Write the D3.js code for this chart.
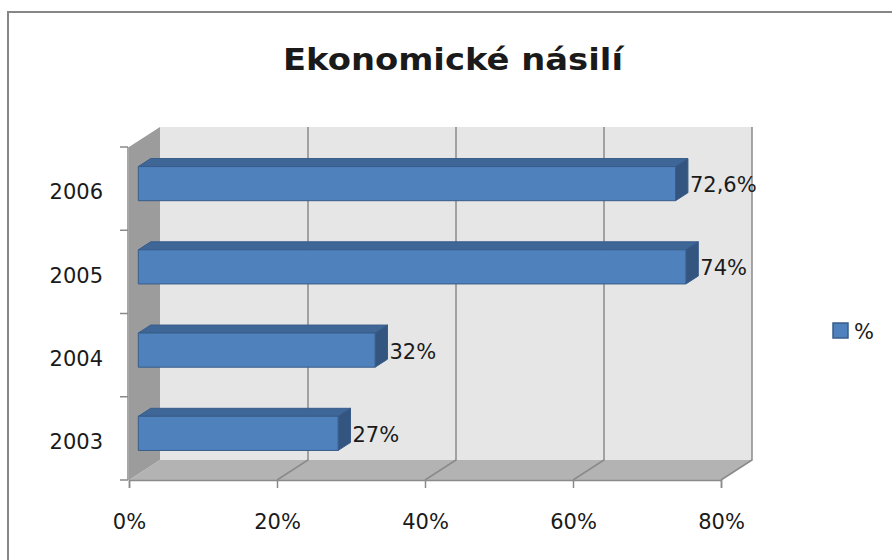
<!DOCTYPE html>
<html>
<head>
<meta charset="utf-8">
<script src="https://cdn.jsdelivr.net/npm/d3@7"></script>
<style>
  body { margin: 0; background: #fff; }
  svg text { font-family: "DejaVu Sans", sans-serif; fill: #1a1a1a; }
</style>
</head>
<body>
<div id="chart"></div>
<script>
// data
var years = ['2006', '2005', '2004', '2003'];
var values = [72.6, 74, 32, 27];
var valueLabels = ['72,6%', '74%', '32%', '27%'];
var xTicks = [0, 20, 40, 60, 80];
var seriesName = '%';

var width = 892, height = 560;
// front plane of the 3d box
var plotLeft = 129, plotRight = 721, plotTop = 147, plotBottom = 480;
// depth offset of the back wall
var DX = 31, DY = -20;
// bars sit between these depth fractions
var z0 = 0.3, z1 = 0.7;

var svg = d3.select('#chart').append('svg')
    .attr('width', width)
    .attr('height', height);

// outer chart border
svg.append('rect')
    .attr('x', 8).attr('y', 12)
    .attr('width', 900).attr('height', 600)
    .attr('fill', '#fff')
    .attr('stroke', '#868686')
    .attr('stroke-width', 2);

// title
svg.append('text')
    .attr('x', 453).attr('y', 70)
    .attr('text-anchor', 'middle')
    .attr('font-size', 31)
    .attr('font-weight', 'bold')
    .attr('textLength', 340)
    .attr('lengthAdjust', 'spacingAndGlyphs')
    .text('Ekonomické násilí');

var x = d3.scaleLinear().domain([0, 80]).range([plotLeft, plotRight]);
var y = d3.scaleBand().domain(years).range([plotTop, plotBottom]);

function pt(px, py, z) { return [px + DX * z, py + DY * z]; }
function poly(points) { return points.map(function (p) { return p.join(','); }).join(' '); }

// back wall
svg.append('polygon')
    .attr('points', poly([pt(plotLeft, plotTop, 1), pt(plotRight, plotTop, 1), pt(plotRight, plotBottom, 1), pt(plotLeft, plotBottom, 1)]))
    .attr('fill', '#e6e6e6');

// floor
svg.append('polygon')
    .attr('points', poly([pt(plotLeft, plotBottom, 0), pt(plotRight, plotBottom, 0), pt(plotRight, plotBottom, 1), pt(plotLeft, plotBottom, 1)]))
    .attr('fill', '#b3b3b3');

// side wall
svg.append('polygon')
    .attr('points', poly([pt(plotLeft, plotTop, 0), pt(plotLeft, plotTop, 1), pt(plotLeft, plotBottom, 1), pt(plotLeft, plotBottom, 0)]))
    .attr('fill', '#9c9c9c');

// gridlines: over the floor and up the back wall
var grid = svg.append('g').attr('class', 'grid');
grid.selectAll('polyline')
    .data(xTicks.slice(1))
    .enter().append('polyline')
    .attr('points', function (d) {
        return poly([pt(x(d), plotBottom, 0), pt(x(d), plotBottom, 1), pt(x(d), plotTop, 1)]);
    })
    .attr('fill', 'none')
    .attr('stroke', '#8a8a8a')
    .attr('stroke-width', 1.5);

// side wall front edge
svg.append('line')
    .attr('x1', plotLeft - 1).attr('y1', plotTop).attr('x2', plotLeft - 1).attr('y2', plotBottom)
    .attr('stroke', '#8a8a8a').attr('stroke-width', 1.5);

// x axis on the front edge of the floor
var xAxis = svg.append('g')
    .attr('class', 'axis axis-x')
    .attr('transform', 'translate(0,' + plotBottom + ')')
    .call(d3.axisBottom(x).tickValues(xTicks).tickSize(8).tickPadding(26)
        .tickFormat(function (d) { return d + '%'; }));
xAxis.select('.domain').attr('stroke', '#8a8a8a').attr('stroke-width', 1.5);
xAxis.selectAll('.tick line').attr('stroke', '#8a8a8a').attr('stroke-width', 1.5);
xAxis.selectAll('text').attr('font-size', 21).attr('fill', '#1a1a1a')
    .style('font-family', '"DejaVu Sans", sans-serif');

// y axis: labels in the middle of each band, ticks between bands
var yAxis = svg.append('g')
    .attr('class', 'axis axis-y')
    .attr('transform', 'translate(' + (plotLeft - 1) + ',4)')
    .call(d3.axisLeft(y).tickSize(0).tickPadding(25));
yAxis.select('.domain').remove();
yAxis.selectAll('text').attr('font-size', 21).attr('fill', '#1a1a1a')
    .style('font-family', '"DejaVu Sans", sans-serif');

svg.append('g').selectAll('line')
    .data(years.concat(['end']))
    .enter().append('line')
    .attr('x1', plotLeft - 9).attr('x2', plotLeft - 1)
    .attr('y1', function (d) { return d === 'end' ? plotBottom : y(d); })
    .attr('y2', function (d) { return d === 'end' ? plotBottom : y(d); })
    .attr('stroke', '#8a8a8a').attr('stroke-width', 1.5);

// 3d bars
var barPad = 0.295, barFrac = 0.41;
var bars = svg.append('g').attr('class', 'bars')
    .selectAll('g')
    .data(years.map(function (d, i) { return { year: d, value: values[i], label: valueLabels[i] }; }))
    .enter().append('g');

function barBox(d) {
    var y0 = y(d.year) + y.bandwidth() * barPad + 1;
    var y1 = y0 + y.bandwidth() * barFrac;
    return { x0: x(0), x1: x(d.value), y0: y0, y1: y1 };
}

// top face
bars.append('polygon')
    .attr('points', function (d) {
        var b = barBox(d);
        return poly([pt(b.x0, b.y0, z0), pt(b.x1, b.y0, z0), pt(b.x1, b.y0, z1), pt(b.x0, b.y0, z1)]);
    })
    .attr('fill', '#3e6697').attr('stroke', '#385d8a').attr('stroke-width', 1);

// end face
bars.append('polygon')
    .attr('points', function (d) {
        var b = barBox(d);
        return poly([pt(b.x1, b.y0, z0), pt(b.x1, b.y0, z1), pt(b.x1, b.y1, z1), pt(b.x1, b.y1, z0)]);
    })
    .attr('fill', '#33557f').attr('stroke', '#385d8a').attr('stroke-width', 1);

// front face
bars.append('polygon')
    .attr('points', function (d) {
        var b = barBox(d);
        return poly([pt(b.x0, b.y0, z0), pt(b.x1, b.y0, z0), pt(b.x1, b.y1, z0), pt(b.x0, b.y1, z0)]);
    })
    .attr('fill', '#4f81bd').attr('stroke', '#385d8a').attr('stroke-width', 1);

// value labels
bars.append('text')
    .attr('x', function (d) { return pt(barBox(d).x1, 0, z1)[0] + 2; })
    .attr('y', function (d) { var b = barBox(d); return (b.y0 + b.y1) / 2 + DY * z0 + 1; })
    .attr('dy', '0.36em')
    .attr('font-size', 21)
    .text(function (d) { return d.label; });

// legend
var legend = svg.append('g').attr('transform', 'translate(833,323)');
legend.append('rect')
    .attr('width', 15).attr('height', 15)
    .attr('fill', '#4f81bd').attr('stroke', '#385d8a').attr('stroke-width', 1.5);
legend.append('text')
    .attr('x', 21).attr('y', 8).attr('dy', '0.36em')
    .attr('font-size', 21)
    .text(seriesName);
</script>
</body>
</html>
